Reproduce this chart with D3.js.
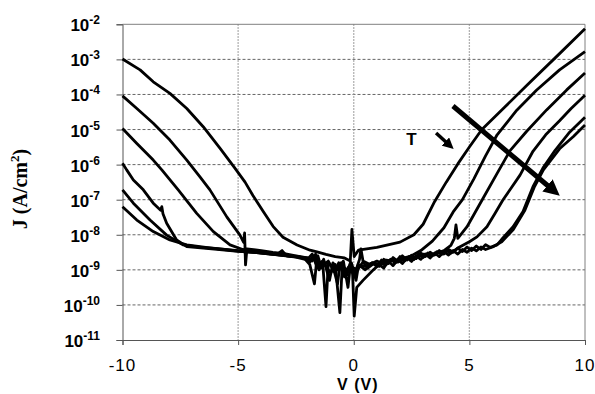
<!DOCTYPE html>
<html>
<head>
<meta charset="utf-8">
<script src="https://d3js.org/d3.v7.min.js"></script>
<style>
  body { margin: 0; background: #fff; }
  .tick-y { font-family: "Liberation Sans", Arial, sans-serif; font-weight: bold; }
  .tick-x { font-family: "Liberation Sans", Arial, sans-serif; font-size: 17px; letter-spacing: 1px; }
</style>
</head>
<body>
<svg id="chart" width="595" height="394"></svg>
<script>
// decade ticks (exponents) and voltage ticks
const yExponents = [-11, -10, -9, -8, -7, -6, -5, -4, -3, -2];
const xTicks = [-10, -5, 0, 5, 10];

// J-V curves, each point is [V, log10 J]
const curve1 = [[-10,-2.99],[-9.24,-3.30],[-8.67,-3.64],[-7.95,-3.97],[-7.22,-4.40],[-6.51,-4.92],[-5.78,-5.54],[-5.14,-6.1],[-4.7,-6.5],[-4.36,-6.88],[-3.92,-7.33],[-3.49,-7.76],[-3.06,-8.07],[-2.45,-8.29],[-1.89,-8.44],[-1.59,-8.49],[-1.2,-8.56],[-0.8,-8.62],[-0.4,-8.66],[-0.15,-8.75],[-0.08,-7.85],[0.02,-8.62],[0.2,-8.44],[1.0,-8.36],[2.0,-8.21],[2.6,-8.0],[3.0,-7.7],[3.5,-7.05],[4.0,-6.5],[4.5,-5.98],[5.0,-5.5],[5.54,-5.0],[6.5,-4.38],[7.5,-3.73],[8.8,-2.9],[10,-2.13]];
const curve2 = [[-10,-4.04],[-9.38,-4.40],[-8.67,-4.82],[-7.95,-5.30],[-7.22,-5.87],[-6.65,-6.35],[-6.22,-6.72],[-5.49,-7.49],[-4.92,-8.01],[-4.76,-8.22],[-4.72,-7.95],[-4.68,-8.86],[-4.62,-8.4],[-4.0,-8.45],[-3.5,-8.5],[-3.0,-8.54],[-2.5,-8.6],[-2.0,-8.66],[-1.7,-8.72],[-1.55,-8.6],[-1.4,-8.95],[-1.2,-8.8],[-0.9,-8.9],[-0.7,-9.4],[-0.6,-8.85],[-0.3,-9.0],[-0.1,-8.8],[0.1,-9.3],[0.2,-8.9],[0.5,-8.9],[0.8,-8.8],[1.1,-8.85],[1.4,-8.72],[1.8,-8.75],[2.2,-8.66],[2.5,-8.6],[2.9,-8.45],[3.4,-8.18],[3.9,-7.8],[4.3,-7.35],[4.7,-7.0],[5.2,-6.4],[5.7,-5.75],[6.2,-5.15],[7.05,-4.45],[7.9,-3.88],[8.9,-3.3],[10,-2.78]];
const curve3 = [[-10,-4.97],[-9.39,-5.39],[-8.67,-5.87],[-8.3,-6.15],[-7.59,-6.72],[-6.79,-7.39],[-6.07,-7.91],[-5.35,-8.29],[-4.8,-8.42],[-4.0,-8.48],[-3.3,-8.55],[-3.1,-8.45],[-2.9,-8.6],[-2.4,-8.62],[-2.0,-8.7],[-1.8,-8.55],[-1.6,-8.9],[-1.35,-8.75],[-1.2,-10.05],[-1.1,-8.8],[-0.8,-9.0],[-0.55,-8.8],[-0.35,-9.2],[-0.2,-8.9],[0.05,-9.1],[0.25,-8.7],[0.31,-8.4],[0.4,-8.75],[0.7,-8.85],[1.0,-8.75],[1.3,-8.85],[1.6,-8.7],[1.9,-8.78],[2.3,-8.65],[2.6,-8.7],[3.0,-8.55],[3.4,-8.58],[3.9,-8.45],[4.2,-8.3],[4.35,-8.1],[4.42,-7.72],[4.5,-8.1],[4.9,-7.77],[5.55,-7.01],[6.2,-6.25],[6.76,-5.6],[7.48,-5.05],[8.34,-4.44],[9.21,-3.87],[10,-3.39]];
const curve4 = [[-10,-5.96],[-9.82,-6.15],[-9.53,-6.44],[-9.10,-6.72],[-8.67,-7.10],[-8.35,-7.3],[-8.3,-7.2],[-8.25,-7.4],[-8.09,-7.67],[-7.66,-8.15],[-7.22,-8.34],[-6.5,-8.38],[-5.8,-8.42],[-5.0,-8.47],[-4.3,-8.5],[-3.6,-8.55],[-2.8,-8.6],[-2.2,-8.65],[-1.9,-8.78],[-1.75,-8.6],[-1.55,-8.95],[-1.3,-8.8],[-1.0,-9.1],[-0.8,-8.85],[-0.6,-10.22],[-0.5,-8.9],[-0.3,-9.15],[-0.15,-8.8],[0.0,-9.2],[0.2,-8.85],[0.5,-9.0],[0.8,-8.8],[1.0,-8.9],[1.2,-8.72],[1.4,-8.85],[1.6,-8.7],[1.8,-8.8],[2.0,-8.62],[2.2,-8.75],[2.4,-8.62],[2.6,-8.7],[2.8,-8.55],[3.0,-8.65],[3.2,-8.52],[3.4,-8.6],[3.6,-8.48],[3.8,-8.56],[4.0,-8.45],[4.2,-8.52],[4.5,-8.38],[5.0,-8.2],[5.33,-8.06],[5.76,-7.77],[6.1,-7.4],[6.45,-7.01],[7.19,-6.3],[7.75,-5.62],[8.3,-5.15],[8.9,-4.75],[9.4,-4.4],[10,-4.02]];
const curve5 = [[-10,-6.72],[-9.53,-7.10],[-8.81,-7.58],[-8.09,-8.01],[-7.37,-8.29],[-6.6,-8.36],[-5.8,-8.4],[-5.0,-8.45],[-4.2,-8.5],[-3.4,-8.56],[-2.6,-8.62],[-2.0,-8.66],[-1.8,-8.75],[-1.65,-8.55],[-1.5,-9.0],[-1.3,-8.7],[-1.05,-9.3],[-0.9,-8.8],[-0.7,-9.0],[-0.45,-8.75],[-0.25,-9.5],[-0.15,-8.9],[0.15,-9.0],[0.4,-8.78],[0.6,-8.95],[0.9,-8.8],[1.1,-8.9],[1.3,-8.7],[1.5,-8.82],[1.7,-8.65],[1.9,-8.76],[2.1,-8.6],[2.3,-8.72],[2.5,-8.58],[2.7,-8.68],[2.9,-8.52],[3.1,-8.62],[3.3,-8.5],[3.5,-8.58],[3.7,-8.45],[3.9,-8.55],[4.1,-8.42],[4.3,-8.5],[4.5,-8.38],[4.7,-8.48],[4.9,-8.35],[5.1,-8.45],[5.3,-8.32],[5.5,-8.42],[5.7,-8.28],[5.9,-8.36],[6.2,-8.29],[6.45,-8.09],[6.89,-7.77],[7.32,-7.34],[7.75,-6.63],[8.18,-6.1],[8.7,-5.6],[9.3,-5.1],[10,-4.65]];
const curve6 = [[-10,-7.20],[-9.38,-7.58],[-8.67,-7.91],[-7.95,-8.15],[-7.22,-8.29],[-6.4,-8.36],[-5.6,-8.42],[-4.8,-8.48],[-4.0,-8.52],[-3.2,-8.58],[-2.5,-8.64],[-2.1,-8.7],[-1.9,-8.85],[-1.7,-9.4],[-1.6,-8.7],[-1.4,-8.9],[-1.1,-8.75],[-0.85,-9.05],[-0.65,-8.8],[-0.4,-9.2],[-0.2,-8.95],[-0.05,-9.1],[0.02,-10.32],[0.13,-9.5],[0.4,-9.3],[0.85,-9.0],[1.1,-8.85],[1.3,-8.95],[1.5,-8.75],[1.7,-8.88],[1.9,-8.7],[2.1,-8.82],[2.3,-8.65],[2.5,-8.76],[2.7,-8.6],[2.9,-8.7],[3.1,-8.55],[3.3,-8.66],[3.5,-8.52],[3.7,-8.62],[3.9,-8.48],[4.1,-8.58],[4.3,-8.45],[4.5,-8.55],[4.7,-8.42],[4.9,-8.5],[5.1,-8.38],[5.3,-8.46],[5.5,-8.35],[5.7,-8.42],[6.0,-8.35],[6.4,-8.2],[6.9,-7.85],[7.4,-7.3],[7.8,-6.65],[8.2,-6.15],[8.9,-5.55],[9.5,-5.2],[10,-4.87]];
const curves = [curve1, curve2, curve3, curve4, curve5, curve6];

// "T" annotation in data units [V, log10 J]
const bigArrow = [[4.29, -4.33], [8.83, -6.84]];
const smallArrow = [[3.56, -5.10], [4.25, -5.50]];
const tLabel = [2.5, -5.45];

const svg = d3.select("#chart");
const plotL = 122.5, plotR = 585, plotT = 24.3, plotB = 340;

const x = d3.scaleLinear().domain([-10, 10]).range([plotL, plotR]);
const y = d3.scaleLog().domain([1e-11, 1e-2]).range([plotB, plotT]);
const yv = e => y(Math.pow(10, e));

// horizontal dashed gridlines
svg.append("g").selectAll("line")
  .data(yExponents.filter(e => e > -11 && e < -2))
  .join("line")
  .attr("x1", plotL).attr("x2", plotR)
  .attr("y1", d => yv(d)).attr("y2", d => yv(d))
  .attr("stroke", "#666").attr("stroke-width", 1)
  .attr("stroke-dasharray", "3,2");

// vertical dotted gridlines
svg.append("g").selectAll("line")
  .data(xTicks.filter(v => v > -10 && v < 10))
  .join("line")
  .attr("x1", d => x(d)).attr("x2", d => x(d))
  .attr("y1", plotT).attr("y2", plotB)
  .attr("stroke", "#999").attr("stroke-width", 1.3)
  .attr("stroke-dasharray", "1.5,1.5");

// frame (top + right)
svg.append("path")
  .attr("d", `M${plotL},${plotT}H${plotR}V${plotB}`)
  .attr("fill", "none").attr("stroke", "#808080").attr("stroke-width", 1);

// left axis
const yAxis = d3.axisLeft(y)
  .tickValues(yExponents.map(e => Math.pow(10, e)))
  .tickSize(6).tickFormat("");
svg.append("g").attr("transform", `translate(${plotL},0)`).call(yAxis)
  .call(g => g.selectAll("path,line").attr("stroke", "#555"));

// bottom axis
const xAxis = d3.axisBottom(x).tickValues(xTicks).tickSize(5).tickFormat("");
svg.append("g").attr("transform", `translate(0,${plotB})`).call(xAxis)
  .call(g => g.selectAll("path,line").attr("stroke", "#555"));

// y tick labels: 10^n
const yl = svg.append("g").selectAll("text")
  .data(yExponents).join("text")
  .attr("class", "tick-y")
  .attr("x", 100).attr("y", d => yv(d) + 7)
  .attr("text-anchor", "end");
yl.append("tspan").attr("font-size", 17).text("10");
yl.append("tspan").attr("font-size", 12).attr("dy", -7).text(d => d);

// x tick labels
svg.append("g").selectAll("text")
  .data(xTicks).join("text")
  .attr("class", "tick-x")
  .attr("x", d => x(d)).attr("y", 371)
  .attr("text-anchor", "middle")
  .text(d => d);

// axis titles
svg.append("text")
  .attr("x", x(0) + 4).attr("y", 390)
  .attr("text-anchor", "middle")
  .attr("font-family", "Liberation Sans, Arial, sans-serif")
  .attr("font-weight", "bold").attr("font-size", 16)
  .attr("letter-spacing", 1)
  .text("V (V)");

const yt = svg.append("text")
  .attr("transform", "translate(27,189) rotate(-90)")
  .attr("text-anchor", "middle")
  .attr("font-family", "Liberation Serif, Times New Roman, serif")
  .attr("font-weight", "bold").attr("font-size", 20);
yt.append("tspan").text("J (A/cm");
yt.append("tspan").attr("font-size", 13).attr("dy", -8).text("2");
yt.append("tspan").attr("dy", 8).text(")");

// curves
const line = d3.line()
  .x(d => x(d[0]))
  .y(d => yv(d[1]));

svg.append("g").selectAll("path")
  .data(curves).join("path")
  .attr("d", line)
  .attr("fill", "none")
  .attr("stroke", "#000")
  .attr("stroke-width", 2.8)
  .attr("stroke-linejoin", "round");

// arrows
const defs = svg.append("defs");
defs.append("marker")
  .attr("id", "head").attr("viewBox", "0 0 10 10")
  .attr("refX", 2).attr("refY", 5)
  .attr("markerWidth", 3.2).attr("markerHeight", 3.2)
  .attr("orient", "auto")
  .append("path").attr("d", "M0,0L10,5L0,10z").attr("fill", "#000");

svg.append("line")
  .attr("x1", x(bigArrow[0][0])).attr("y1", yv(bigArrow[0][1]))
  .attr("x2", x(bigArrow[1][0]) - 8).attr("y2", yv(bigArrow[1][1]) - 6.6)
  .attr("stroke", "#000").attr("stroke-width", 5)
  .attr("marker-end", "url(#head)");

svg.append("line")
  .attr("x1", x(smallArrow[0][0])).attr("y1", yv(smallArrow[0][1]))
  .attr("x2", x(smallArrow[1][0]) - 5).attr("y2", yv(smallArrow[1][1]) - 4)
  .attr("stroke", "#000").attr("stroke-width", 3.5)
  .attr("marker-end", "url(#head)");

svg.append("text")
  .attr("x", x(tLabel[0])).attr("y", yv(tLabel[1]))
  .attr("text-anchor", "middle")
  .attr("font-family", "Liberation Sans, Arial, sans-serif")
  .attr("font-weight", "bold")
  .attr("font-size", 17)
  .text("T");
</script>
</body>
</html>
